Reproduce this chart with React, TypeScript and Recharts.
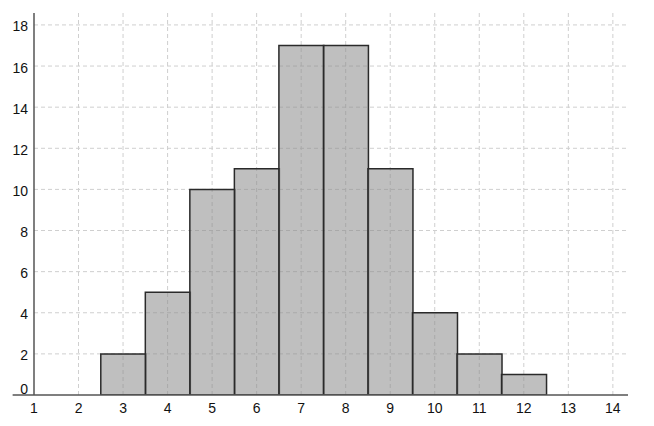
import React from "react";
import {
  ComposedChart,
  Bar,
  XAxis,
  YAxis,
  CartesianGrid,
  ReferenceLine,
} from "recharts";

const binCenters = [3, 4, 5, 6, 7, 8, 9, 10, 11, 12];
const frequencies = [2, 5, 10, 11, 17, 17, 11, 4, 2, 1];
const xTicks = [1, 2, 3, 4, 5, 6, 7, 8, 9, 10, 11, 12, 13, 14];
const yTicks = [0, 2, 4, 6, 8, 10, 12, 14, 16, 18];

const data = binCenters.map((x, i) => ({ x, count: frequencies[i] }));

const FONT = "'Liberation Sans', Arial, sans-serif";

const YTick = (props: any) => {
  const { x, y, payload } = props;
  const shift = payload.value === 0 ? -6 : 1.5;
  return (
    <text
      x={x}
      y={y + shift}
      dy="0.355em"
      textAnchor="end"
      fontSize={14}
      fontFamily={FONT}
      fill="#111"
    >
      {payload.value}
    </text>
  );
};

const XTick = (props: any) => {
  const { x, y, payload } = props;
  return (
    <text
      x={x}
      y={y}
      dy="0.71em"
      textAnchor="middle"
      fontSize={14}
      fontFamily={FONT}
      fill="#111"
    >
      {payload.value}
    </text>
  );
};

export default function App() {
  return (
    <div style={{ width: 638, height: 410 }}>
      <ComposedChart
        width={638}
        height={410}
        data={data}
        margin={{ top: 5, right: 18, bottom: 0, left: 0 }}
        barCategoryGap={0}
        barGap={0}
      >
        <CartesianGrid
          stroke="#cfcfcf"
          strokeDasharray="4 3"
          horizontalValues={[2, 4, 6, 8, 10, 12, 14, 16, 18]}
          verticalValues={[2, 3, 4, 5, 6, 7, 8, 9, 10, 11, 12, 13, 14]}
        />
        <XAxis
          dataKey="x"
          type="number"
          domain={[1, 14.34]}
          ticks={xTicks}
          allowDataOverflow
          axisLine={false}
          tickLine={false}
          tickSize={0}
          tickMargin={8}
          height={23}
          tick={<XTick />}
          interval={0}
        />
        <YAxis
          type="number"
          domain={[0, 18.58]}
          ticks={yTicks}
          allowDataOverflow
          axisLine={{ stroke: "#555", strokeWidth: 1.5 }}
          tickLine={false}
          tickSize={0}
          tickMargin={6}
          width={26}
          tick={<YTick />}
          interval={0}
        />
        <Bar
          dataKey="count"
          fill="#8a8a8a"
          fillOpacity={0.55}
          stroke="#2a2a2a"
          strokeWidth={1.5}
          isAnimationActive={false}
        />
        <ReferenceLine
          segment={[
            { x: 0.52, y: 0 },
            { x: 14.34, y: 0 },
          ]}
          stroke="#555"
          strokeWidth={1.5}
          ifOverflow="visible"
        />
      </ComposedChart>
    </div>
  );
}
